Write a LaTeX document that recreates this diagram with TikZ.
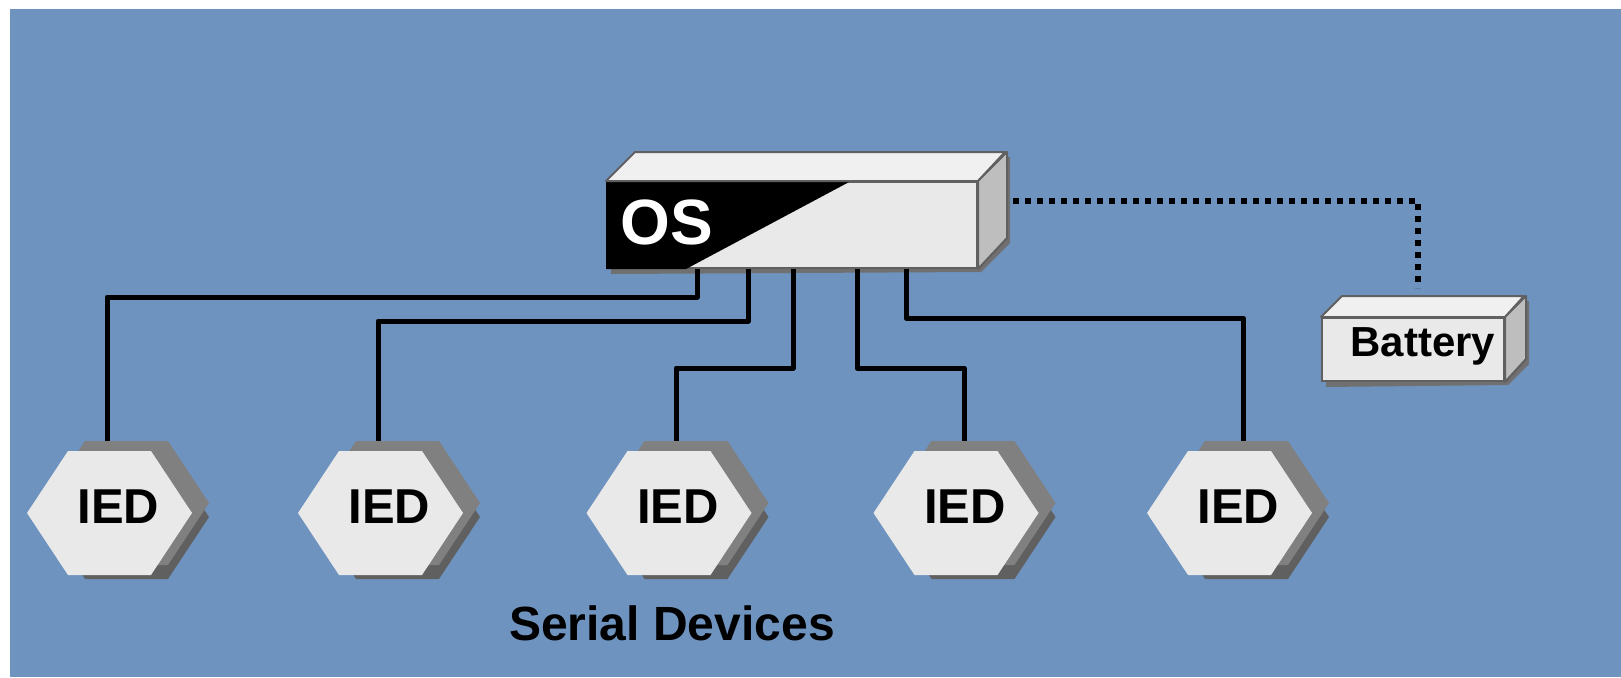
\documentclass[tikz,border=0pt]{standalone}
\usepackage{fontspec}
\setmainfont{Liberation Sans}
\usetikzlibrary{calc}

\definecolor{panelblue}{RGB}{111,147,191}
\definecolor{facegray}{RGB}{233,233,233}
\definecolor{topgray}{RGB}{240,240,240}
\definecolor{sidegray}{RGB}{190,190,190}
\definecolor{edgegray}{RGB}{96,96,96}
\definecolor{shadegray}{RGB}{112,112,112}
\definecolor{hexmid}{RGB}{128,128,128}
\definecolor{hexdark}{RGB}{96,96,96}

\pgfdeclarelayer{back}
\pgfdeclarelayer{wiring}
\pgfsetlayers{back,wiring,main}

\tikzset{
  boxface/.style={draw=edgegray, line width=2pt, fill=facegray, inner sep=0pt},
  boxtop/.style={draw=edgegray, line width=2pt, fill=topgray, line join=round},
  boxside/.style={draw=edgegray, line width=2pt, fill=sidegray, line join=round},
  iedbox/.style={minimum width=165pt, minimum height=124pt, inner sep=0pt},
  iedlabel/.style={font=\fontsize{49}{49}\selectfont\bfseries, inner sep=0pt},
  wire/.style={line width=5pt, line join=round},
  batwire/.style={line width=5.5pt, dash pattern=on 5.5pt off 6.5pt},
}

% flat topped hexagon, drawn round the origin
\newcommand\hexpath{(-82.5,0) -- (-41.5,-62) -- (41.5,-62) -- (82.5,0) -- (41.5,62) -- (-41.5,62) -- cycle}
\newcommand\iedunit[2]{%
  \fill[hexdark, shift={(#2)}, shift={(17,4)}] \hexpath;
  \fill[hexmid, shift={(#2)}, shift={(17,-10)}] \hexpath;
  \fill[facegray, shift={(#2)}] \hexpath;
  \node[iedbox, label={[iedlabel,xshift=9pt,yshift=6pt]center:IED}] (#1) at (#2) {};
}

\begin{document}
\begin{tikzpicture}[x=1pt, y=-1pt]
  \useasboundingbox (0,0) rectangle (1621,677);
  \begin{pgfonlayer}{back}
    \fill[white] (0,0) rectangle (1621,677);
    \fill[panelblue] (10,9) rectangle (1621,677);
  \end{pgfonlayer}

  % OS unit
  \node[boxface, minimum width=370pt, minimum height=86pt] (os) at (792,225) {};
  \fill[black] (os.north west) -- ([xshift=245pt]os.north west) -- ([xshift=80pt]os.south west) -- (os.south west) -- cycle;
  \draw[boxtop] (os.north west) -- ++(29,-29) -- ++(370,0) -- (os.north east) -- cycle;
  \draw[boxside] (os.north east) -- ++(29,-29) -- ++(0,86) -- (os.south east) -- cycle;
  \node[text=white, font=\fontsize{64}{64}\selectfont\bfseries, inner sep=0pt] (oslabel) at ([xshift=61pt,yshift=3pt]os.west) {OS};

  % battery
  \node[boxface, minimum width=182pt, minimum height=63pt] (bat) at (1413,349.5) {};
  \draw[boxtop] (bat.north west) -- ++(21,-21) -- ++(182,0) -- (bat.north east) -- cycle;
  \draw[boxside] (bat.north east) -- ++(21,-21) -- ++(0,63) -- (bat.south east) -- cycle;
  \node[font=\fontsize{42}{42}\selectfont\bfseries, inner sep=0pt] (batlabel) at ([xshift=10pt,yshift=3pt]bat.center) {Battery};

  % serial devices
  \iedunit{ied1}{109.5,513}
  \iedunit{ied2}{380.5,513}
  \iedunit{ied3}{669,513}
  \iedunit{ied4}{956,513}
  \iedunit{ied5}{1229.5,513}
  \node[font=\fontsize{48}{48}\selectfont\bfseries, inner sep=0pt] (serial) at (672,623) {Serial Devices};

  \coordinate (p1) at ([xshift=91pt]os.south west);
  \coordinate (p2) at ([xshift=142pt]os.south west);
  \coordinate (p3) at ([xshift=187pt]os.south west);
  \coordinate (p4) at ([xshift=251pt]os.south west);
  \coordinate (p5) at ([xshift=300pt]os.south west);
  \coordinate (tap) at ([xshift=35pt,yshift=24pt]os.east);

  \begin{pgfonlayer}{wiring}
    \fill[shadegray] ([shift={(5,5)}]os.south west) -- ([shift={(5,5)}]os.north west) -- ++(29,-29) -- ++(370,0) -- ++(0,86) -- ++(-29,29) -- cycle;
    \fill[shadegray] ([shift={(5,5)}]bat.south west) -- ([shift={(5,5)}]bat.north west) -- ++(21,-21) -- ++(182,0) -- ++(0,63) -- ++(-21,21) -- cycle;
    \draw[wire] (p1) -- ++(0,28) -| ([xshift=-2.5pt]ied1.north);
    \draw[wire] (p2) -- ++(0,52) -| ([xshift=-2.5pt]ied2.north);
    \draw[wire] (p3) -- ++(0,99) -| ([xshift=7pt]ied3.north);
    \draw[wire] (p4) -- ++(0,99) -| ([xshift=8pt]ied4.north);
    \draw[wire] (p5) -- ++(0,49) -| ([xshift=13.5pt]ied5.north);
    \draw[batwire] (tap) -| ([xshift=5pt,yshift=29pt]bat.north);
  \end{pgfonlayer}
\end{tikzpicture}
\end{document}
